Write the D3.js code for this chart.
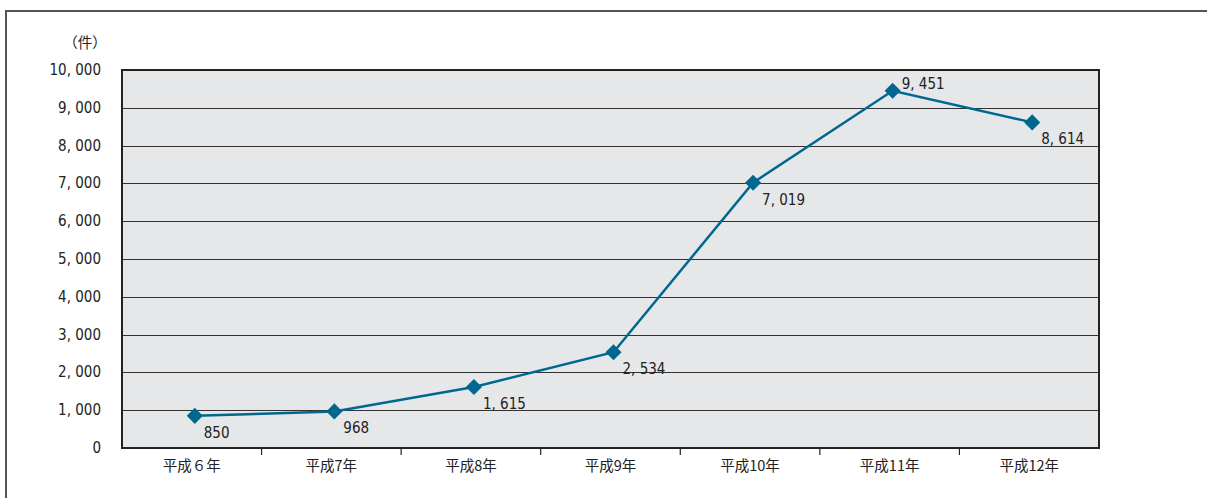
<!DOCTYPE html>
<html>
<head>
<meta charset="utf-8">
<script src="https://cdn.jsdelivr.net/npm/d3@7"></script>
<style>
  html, body { margin: 0; padding: 0; background: #fff; }
  svg { display: block; }
  .num { font-family: "Liberation Sans Narrow", "DejaVu Sans Condensed", "Arial Narrow", sans-serif; font-size: 15px; fill: #222; }
  .jp { font-family: "Noto Sans CJK JP", sans-serif; font-size: 14.5px; fill: #222; }
</style>
</head>
<body>
<script>
// Yearly counts (件), 平成6年 – 平成12年
const categories = ["平成６年", "平成7年", "平成8年", "平成9年", "平成10年", "平成11年", "平成12年"];
const values = [850, 968, 1615, 2534, 7019, 9451, 8614];
const yTicks = [0, 1000, 2000, 3000, 4000, 5000, 6000, 7000, 8000, 9000, 10000];
const labelAbove = [false, false, false, false, false, true, false];

const W = 1207, H = 498;
const plot = { left: 122, right: 1099, top: 70, bottom: 448 };

const svg = d3.select("body").append("svg").attr("width", W).attr("height", H);

// outer frame: top and left edges only
svg.append("path")
  .attr("d", `M6,${H} L6,11 L${W},11`)
  .attr("fill", "none").attr("stroke", "#555").attr("stroke-width", 2);

const x = d3.scaleBand().domain(categories).range([plot.left, plot.right]);
const y = d3.scaleLinear().domain([0, 10000]).range([plot.bottom, plot.top]);

// plot background
svg.append("rect")
  .attr("x", plot.left).attr("y", plot.top)
  .attr("width", plot.right - plot.left).attr("height", plot.bottom - plot.top)
  .attr("fill", "#e6e7e9");

// horizontal gridlines
svg.append("g").selectAll("line").data(yTicks.slice(1, -1)).join("line")
  .attr("x1", plot.left).attr("x2", plot.right)
  .attr("y1", d => Math.round(y(d)) + 0.5).attr("y2", d => Math.round(y(d)) + 0.5)
  .attr("stroke", "#333").attr("stroke-width", 1.2);

// plot border
svg.append("rect")
  .attr("x", plot.left).attr("y", plot.top)
  .attr("width", plot.right - plot.left).attr("height", plot.bottom - plot.top)
  .attr("fill", "none").attr("stroke", "#222").attr("stroke-width", 2);

// y-axis labels
const fmt = v => d3.format(",")(v).replace(",", ", ");
svg.append("g").selectAll("text").data(yTicks).join("text")
  .attr("class", "num")
  .attr("x", 101).attr("y", d => y(d) + 5)
  .attr("text-anchor", "end")
  .text(fmt);

svg.append("text").attr("class", "jp")
  .attr("x", 85).attr("y", 48).attr("text-anchor", "middle")
  .text("（件）");

// x-axis ticks between categories
svg.append("g").selectAll("line").data(categories.slice(1)).join("line")
  .attr("x1", d => x(d)).attr("x2", d => x(d))
  .attr("y1", plot.bottom).attr("y2", plot.bottom + 7)
  .attr("stroke", "#222").attr("stroke-width", 1.2);

// x-axis labels
svg.append("g").selectAll("text").data(categories).join("text")
  .attr("class", "jp")
  .attr("x", d => x(d) + x.bandwidth() / 2).attr("y", 471)
  .attr("text-anchor", "middle")
  .text(d => d);

// series line
const cx = (d, i) => x(categories[i]) + x.bandwidth() / 2 + 3;
const line = d3.line().x((d, i) => cx(d, i)).y(d => y(d));
svg.append("path").datum(values)
  .attr("d", line)
  .attr("fill", "none").attr("stroke", "#00678f").attr("stroke-width", 2.5);

// diamond markers
svg.append("g").selectAll("path").data(values).join("path")
  .attr("transform", (d, i) => `translate(${cx(d, i)},${y(d)})`)
  .attr("d", d3.symbol().type(d3.symbolDiamond2).size(165))
  .attr("fill", "#00678f");

// value labels
svg.append("g").selectAll("text").data(values).join("text")
  .attr("class", "num")
  .attr("x", (d, i) => cx(d, i) + 9)
  .attr("y", (d, i) => labelAbove[i] ? y(d) - 2 : y(d) + 22)
  .text(fmt);
</script>
</body>
</html>
